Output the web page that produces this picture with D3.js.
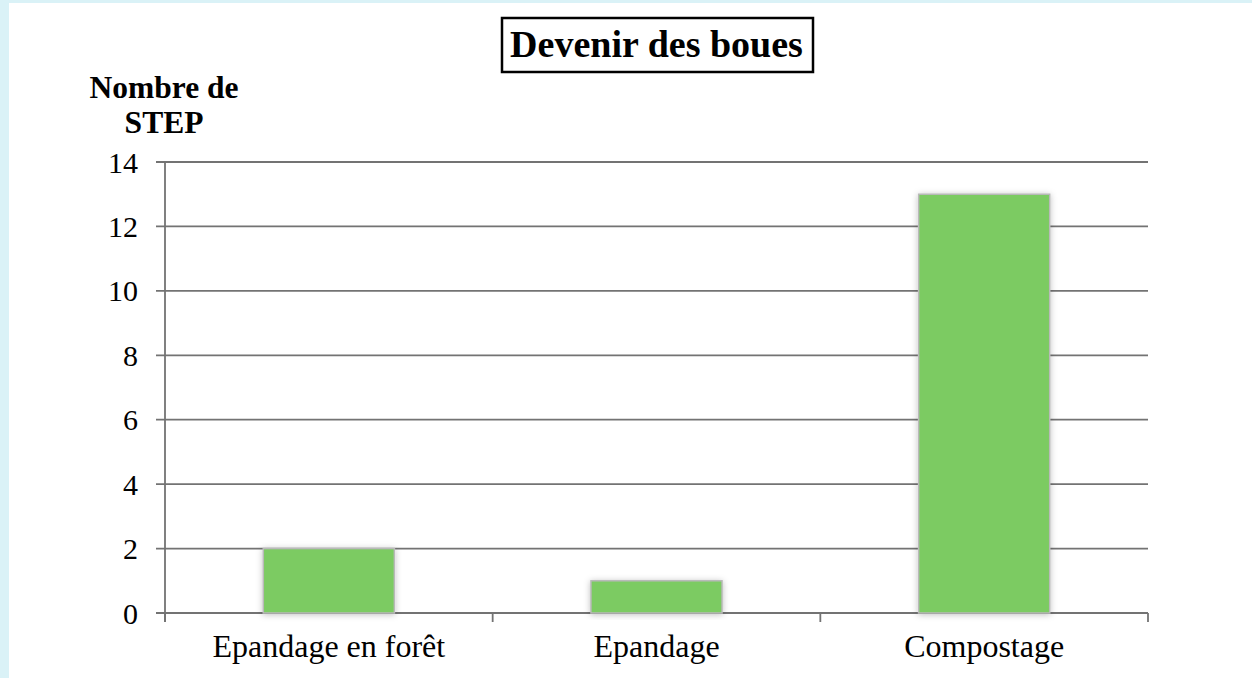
<!DOCTYPE html>
<html lang="fr">
<head>
    <meta charset="UTF-8">
    <title>Devenir des boues</title>
    <script src="https://d3js.org/d3.v7.min.js"></script>
    <style>
        body { margin: 0; background: #daf2f7; }
        svg { display: block; font-family: "Liberation Serif", "Times New Roman", serif; }
    </style>
</head>
<body>
    <div id="chart"></div>
    <script>
        // données
        const categories = ["Epandage en forêt", "Epandage", "Compostage"];
        const values = [2, 1, 13];
        const yTicks = [0, 2, 4, 6, 8, 10, 12, 14];

        const width = 1252, height = 678;
        const plotLeft = 165, plotRight = 1148, plotTop = 162, plotBottom = 613;

        const svg = d3.select("#chart").append("svg")
            .attr("width", width)
            .attr("height", height);

        // ombre des barres
        svg.append("defs").append("filter")
            .attr("id", "shadow")
            .attr("x", "-20%").attr("y", "-20%")
            .attr("width", "140%").attr("height", "140%")
            .append("feDropShadow")
            .attr("dx", 0).attr("dy", 1)
            .attr("stdDeviation", 3)
            .attr("flood-color", "#000")
            .attr("flood-opacity", 0.25);

        svg.append("rect")
            .attr("x", 9).attr("y", 3)
            .attr("width", width - 9).attr("height", height - 3)
            .attr("fill", "#fff");

        const x = d3.scaleBand().domain(categories).range([plotLeft, plotRight]).padding(0);
        const y = d3.scaleLinear().domain([0, 14]).range([plotBottom, plotTop]);

        // grille horizontale
        svg.selectAll(".grid")
            .data(yTicks)
            .enter().append("line")
            .attr("class", "grid")
            .attr("x1", plotLeft - 9).attr("x2", plotRight)
            .attr("y1", d => y(d)).attr("y2", d => y(d))
            .attr("stroke", "#737373")
            .attr("stroke-width", 1.8);

        // axe vertical
        svg.append("line")
            .attr("x1", plotLeft).attr("x2", plotLeft)
            .attr("y1", y(14)).attr("y2", y(0) + 9)
            .attr("stroke", "#737373")
            .attr("stroke-width", 1.8);

        // graduations de l'axe x
        const bounds = categories.map(c => x(c)).concat([plotRight]);
        svg.selectAll(".xtick")
            .data(bounds)
            .enter().append("line")
            .attr("class", "xtick")
            .attr("x1", d => d).attr("x2", d => d)
            .attr("y1", y(0)).attr("y2", y(0) + 9)
            .attr("stroke", "#737373")
            .attr("stroke-width", 1.8);

        // étiquettes y
        svg.selectAll(".ylab")
            .data(yTicks)
            .enter().append("text")
            .attr("x", 138)
            .attr("y", d => y(d))
            .attr("dy", "0.35em")
            .attr("text-anchor", "end")
            .attr("font-size", 30)
            .text(d => d);

        // barres
        const barW = x.bandwidth() * 0.4;
        svg.selectAll(".bar")
            .data(values)
            .enter().append("rect")
            .attr("class", "bar")
            .attr("x", (d, i) => x(categories[i]) + (x.bandwidth() - barW) / 2)
            .attr("y", d => y(d))
            .attr("width", barW)
            .attr("height", d => y(0) - y(d))
            .attr("fill", "#7ccb62")
            .attr("stroke", "#b9b9b9")
            .attr("stroke-width", 1.5)
            .attr("filter", "url(#shadow)");

        // étiquettes x
        svg.selectAll(".xlab")
            .data(categories)
            .enter().append("text")
            .attr("x", d => x(d) + x.bandwidth() / 2)
            .attr("y", 657)
            .attr("text-anchor", "middle")
            .attr("font-size", 32)
            .text(d => d);

        // titre de l'axe y
        const yTitle = svg.append("text")
            .attr("text-anchor", "middle")
            .attr("font-weight", "bold")
            .attr("font-size", 31.5);
        yTitle.append("tspan").attr("x", 164).attr("y", 98).text("Nombre de");
        yTitle.append("tspan").attr("x", 164).attr("y", 133).text("STEP");

        // titre
        svg.append("rect")
            .attr("x", 502).attr("y", 18)
            .attr("width", 311).attr("height", 54)
            .attr("fill", "#fff")
            .attr("stroke", "#000")
            .attr("stroke-width", 2.5);
        svg.append("text")
            .attr("x", (plotLeft + plotRight) / 2)
            .attr("y", 57)
            .attr("text-anchor", "middle")
            .attr("font-weight", "bold")
            .attr("font-size", 38)
            .text("Devenir des boues");
    </script>
</body>
</html>
